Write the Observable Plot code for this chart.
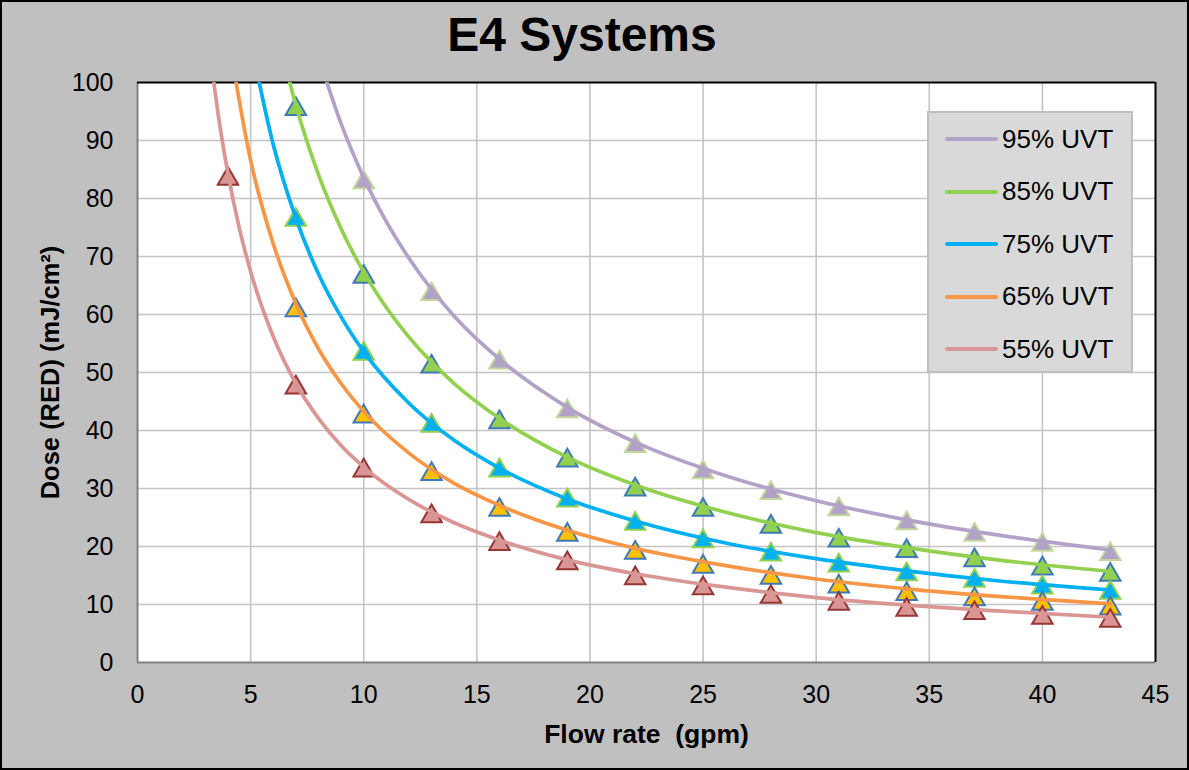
<!DOCTYPE html>
<html><head><meta charset="utf-8">
<script src="https://cdn.jsdelivr.net/npm/d3@7"></script>
<script src="https://cdn.jsdelivr.net/npm/@observablehq/plot@0.6"></script>
<style>
body{margin:0;background:#fff;}
#wrap{position:relative;width:1189px;height:770px;background:#c0c0c0;overflow:hidden;font-family:"Liberation Sans",Arial,sans-serif;}
#border{position:absolute;left:0;top:0;width:1185px;height:766px;border:2px solid #000;pointer-events:none;z-index:3;}
#title{position:absolute;left:0;width:1164px;top:11px;line-height:48px;text-align:center;font-weight:bold;font-size:48px;color:#000;}
#chart{position:absolute;left:0;top:40px;}
#legend{position:absolute;left:927px;top:111px;width:202px;height:258px;background:#d9d9d9;border:2px solid #bfbfbf;z-index:2;}
.item{display:flex;align-items:center;height:52.5px;font-size:26px;color:#000;}
.sw{width:53px;height:4px;margin-left:16px;margin-right:4px;border-radius:2px;}
</style></head>
<body>
<div id="wrap">
  <div id="title"></div>
  <div id="chart"></div>
  <div id="legend"></div>
  <div id="border"></div>
</div>
<script>
const titleText = "E4 Systems";
const xLabel = "Flow rate\u00a0 (gpm)";
const yLabel = "Dose (RED) (mJ/cm²)";
const xTicks = [0,5,10,15,20,25,30,35,40,45];
const yTicks = [0,10,20,30,40,50,60,70,80,90,100];

const seriesNames = ["95% UVT","85% UVT","75% UVT","65% UVT","55% UVT"];
const lineColors  = ["#b3a2c7","#92d050","#00b0f0","#f79646","#d99694"];
const markerFills = ["#b3a2c7","#92d050","#00b0f0","#ffc000","#d99694"];
const markerStrokes = ["#c3d69b","#3f7ab8","#92d050","#3f7ab8","#953735"];

// measured points (markers)
const markerFlow = [4,7,10,13,16,19,22,25,28,31,34,37,40,43];
const dose95 = [null,null,83.3,64.0,52.2,43.8,37.8,33.3,29.7,26.9,24.5,22.5,20.8,19.2];
const dose85 = [null,95.9,67.0,51.5,41.9,35.3,30.3,26.8,23.9,21.5,19.7,18.1,16.7,15.6];
const dose75 = [null,76.8,53.7,41.3,33.6,28.4,24.4,21.4,19.1,17.2,15.7,14.6,13.4,12.5];
const dose65 = [null,61.2,42.9,33.0,26.8,22.5,19.4,17.0,15.1,13.6,12.3,11.4,10.6,9.8];
const dose55 = [83.9,47.9,33.6,25.7,20.9,17.6,15.0,13.3,11.8,10.6,9.6,9.0,8.2,7.7];

// trend curves
const trendFlow95 = [8,9,10,11,12,14,16,19,22,26,30,34,38,43];
const trendDose95 = [104.5,92.9,83.6,76.0,69.7,59.7,52.3,44.0,38.0,32.2,27.9,24.6,22.0,19.4];
const trendFlow85 = [6.5,7,8,9,10,11,12,14,16,19,22,26,30,34,38,43];
const trendDose85 = [103.5,96.1,84.1,74.8,67.3,61.2,56.1,48.1,42.1,35.4,30.6,25.9,22.4,19.8,17.7,15.7];
const trendFlow75 = [5,6,7,8,9,10,12,14,16,19,22,26,30,34,38,43];
const trendDose75 = [107.2,89.3,76.6,67.0,59.6,53.6,44.7,38.3,33.5,28.2,24.4,20.6,17.9,15.8,14.1,12.5];
const trendFlow65 = [4,5,6,7,8,9,10,12,14,16,19,22,26,30,34,38,43];
const trendDose65 = [108.3,86.6,72.2,61.9,54.1,48.1,43.3,36.1,30.9,27.1,22.8,19.7,16.7,14.4,12.7,11.4,10.1];
const trendFlow55 = [3.2,3.6,4,4.5,5,6,7,8,9,10,12,14,16,19,22,26,30,34,38,43];
const trendDose55 = [105.3,93.6,84.3,74.9,67.4,56.2,48.1,42.1,37.4,33.7,28.1,24.1,21.1,17.7,15.3,13.0,11.2,9.9,8.9,7.8];

const doses = [dose95,dose85,dose75,dose65,dose55];
const trendFlows = [trendFlow95,trendFlow85,trendFlow75,trendFlow65,trendFlow55];
const trendDoses = [trendDose95,trendDose85,trendDose75,trendDose65,trendDose55];

document.getElementById("title").textContent = titleText;

const markerMarks = seriesNames.map((s,i) => {
  const rows = markerFlow.map((f,j)=>({flow:f, dose:doses[i][j]})).filter(d=>d.dose!=null);
  return Plot.dot(rows, {x:"flow", y:"dose", symbol:"triangle", r:7.6, dy:2.9,
    fill:markerFills[i], stroke:markerStrokes[i], strokeWidth:2});
});
const lineMarks = seriesNames.map((s,i) => {
  const rows = trendFlows[i].map((f,j)=>({flow:f, dose:trendDoses[i][j]}));
  return Plot.line(rows, {x:"flow", y:"dose", stroke:lineColors[i], strokeWidth:3.7,
    curve:"monotone-x", clip:true});
});

const chart = Plot.plot({
  width:1189, height:730,
  marginTop:42, marginBottom:108, marginLeft:137, marginRight:34,
  style:{background:"transparent", fontFamily:"Liberation Sans, Arial, sans-serif", fontSize:"25px", color:"#000", overflow:"visible"},
  x:{domain:[0,45]},
  y:{domain:[0,100]},
  marks:[
    Plot.frame({fill:"white", stroke:null}),
    Plot.gridX(xTicks.slice(1,-1), {stroke:"#c4c4c4", strokeOpacity:1, strokeWidth:1.6}),
    Plot.gridY(yTicks.slice(1,-1), {stroke:"#c4c4c4", strokeOpacity:1, strokeWidth:1.6}),
    Plot.ruleX([0], {stroke:"#808080", strokeWidth:2}),
    Plot.ruleY([0], {stroke:"#808080", strokeWidth:2}),
    Plot.ruleY([100], {stroke:"#000", strokeWidth:2}),
    Plot.ruleX([45], {stroke:"#000", strokeWidth:2}),
    Plot.axisX(xTicks, {tickSize:0, tickPadding:23, label:null, fontSize:25}),
    Plot.axisY(yTicks, {tickSize:0, tickPadding:24, label:null, fontSize:25}),
    ...markerMarks,
    ...lineMarks,
    Plot.text([xLabel], {frameAnchor:"bottom", lineAnchor:"middle", textAnchor:"middle", dy:72, fontWeight:"bold", fontSize:26.5}),
    Plot.text([yLabel], {frameAnchor:"left", lineAnchor:"middle", textAnchor:"middle", dx:-87, rotate:-90, fontWeight:"bold", fontSize:25.5})
  ]
});
document.getElementById("chart").appendChild(chart);

const legend = document.getElementById("legend");
seriesNames.forEach((s,i)=>{
  const it = document.createElement("div");
  it.className = "item";
  const sw = document.createElement("div");
  sw.className = "sw";
  sw.style.background = lineColors[i];
  const t = document.createElement("span");
  t.textContent = s;
  it.appendChild(sw); it.appendChild(t);
  legend.appendChild(it);
});
</script>
</body></html>
